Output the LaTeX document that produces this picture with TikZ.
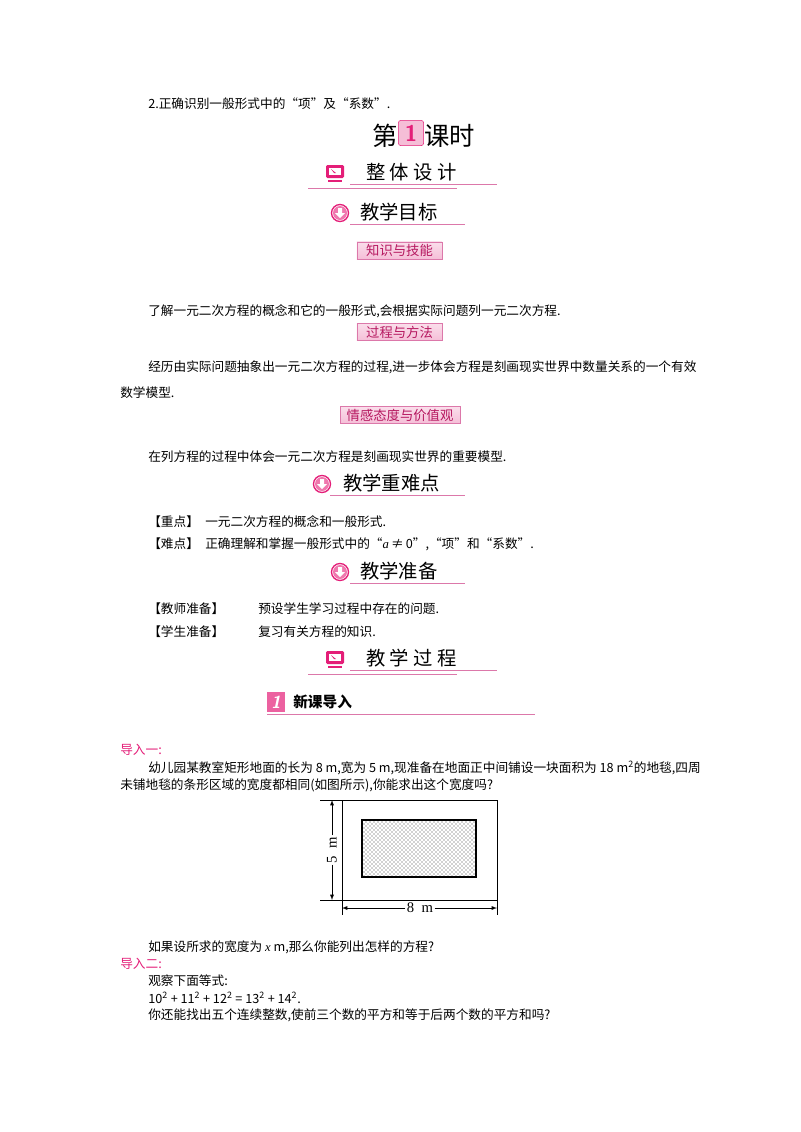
\documentclass[tikz,border=0pt]{standalone}
\usepackage{fontspec}
\setmainfont{Liberation Serif}
\newfontfamily\cjk{Noto Sans CJK SC}
\newfontfamily\lser{Liberation Serif}
\usetikzlibrary{patterns}
\definecolor{pk}{RGB}{228,30,120}
\definecolor{pkl}{RGB}{220,120,170}
\definecolor{pkbg}{RGB}{245,190,215}
\begin{document}
\begin{tikzpicture}[x=0.75pt,y=-0.75pt,
  txt/.style={anchor=west,inner sep=0pt,font=\cjk\fontsize{9.5}{11}\selectfont},
  hd/.style={anchor=west,inner sep=0pt,font=\cjk\fontsize{14.5}{16}\selectfont},
  tag/.style={draw=pkl,top color=pkbg!50,bottom color=pkbg,text=pk!80!black,inner sep=1.5pt,font=\cjk\fontsize{10}{12}\selectfont},
  pl/.style={draw=pkl,line width=0.7pt}]
\useasboundingbox (0,0) rectangle (800,1132);
\fill[white] (0,0) rectangle (800,1132);
\node[txt] (t0) at (148,104) {2.正确识别一般形式中的“项”及“系数”.};
% title
\node[anchor=east,inner sep=0pt,font=\cjk\fontsize{19}{22}\selectfont] (ta) at (398,136) {第};
\node[draw=pk,fill=pkbg,rounded corners=2pt,inner sep=0pt,minimum width=19pt,minimum height=19pt,text=pk,font=\sffamily\bfseries\fontsize{17}{17}\selectfont] (tn) at (411,133) {1};
\node[anchor=west,inner sep=0pt,font=\cjk\fontsize{19}{22}\selectfont] (tb) at (424,136) {课时};
\newcommand\mon[2]{\fill[pk,rounded corners=1pt] (#1-9,#2-7) rectangle (#1+9,#2+6);
 \fill[white] (#1-6,#2-4) rectangle (#1+6,#2+3); \fill[pk] (#1-4,#2-3)--(#1+1,#2+1)--(#1-1,#2+1)--cycle;
 \fill[pk] (#1-7,#2+8) rectangle (#1+7,#2+10);}
\mon{335}{172}
\node[hd] (h1) at (366,172) {整\ 体\ 设\ 计};
\draw[pl] (350,184)--(497,184); \draw[pl] (308,188)--(457,188);
\newcommand\dn[2]{\draw[pk,fill=white,line width=1pt] (#1,#2) circle (8.5); \fill[pk!60] (#1,#2) circle (7);
 \fill[white] (#1-2,#2-5) rectangle (#1+2,#2) (#1-5,#2)--(#1+5,#2)--(#1,#2+5)--cycle;}
\dn{340}{213}
\node[hd] (h2) at (360,212) {教学目标};
\draw[pl] (350,224)--(465,224);
\node[tag,minimum width=64pt,minimum height=13pt] (g1) at (399.5,250.5) {知识与技能};
\node[txt] (p1) at (148,311) {了解一元二次方程的概念和它的一般形式,会根据实际问题列一元二次方程.};
\node[tag,minimum width=64pt,minimum height=13pt] (g2) at (399.5,332) {过程与方法};
\node[txt] (p2) at (148,367) {经历由实际问题抽象出一元二次方程的过程,进一步体会方程是刻画现实世界中数量关系的一个有效};
\node[txt] (p2b) at (120,393) {数学模型.};
\node[tag,minimum width=90pt,minimum height=13pt] (g3) at (400,415) {情感态度与价值观};
\node[txt] (p3) at (148,457) {在列方程的过程中体会一元二次方程是刻画现实世界的重要模型.};
\dn{322}{484}
\node[hd] (h3) at (343,483) {教学重难点};
\draw[pl] (330,495)--(465,495);
\node[txt] (k1) at (148,522) {【重点】};
\node[txt] (k1b) at (205,522) {一元二次方程的概念和一般形式.};
\node[txt] (k2) at (148,544) {【难点】};
\node[txt] (k2b) at (205,544) {正确理解和掌握一般形式中的“{\lser\itshape a}\,≠\,0”,“项”和“系数”.};
\dn{340}{572}
\node[hd] (h4) at (360,571) {教学准备};
\draw[pl] (350,583)--(465,583);
\node[txt] (r1) at (148,609) {【教师准备】};
\node[txt] (r1b) at (258,609) {预设学生学习过程中存在的问题.};
\node[txt] (r2) at (148,632) {【学生准备】};
\node[txt] (r2b) at (258,632) {复习有关方程的知识.};
\mon{335}{658}
\node[hd] (h5) at (366,658) {教\ 学\ 过\ 程};
\draw[pl] (350,670)--(497,670); \draw[pl] (308,674)--(457,674);
\node[fill=pk!70,text=white,inner sep=0pt,minimum width=14pt,minimum height=15pt,font=\sffamily\bfseries\itshape\fontsize{13}{13}\selectfont] (n1) at (276,702) {1};
\node[anchor=west,inner sep=0pt,font=\cjk\bfseries\fontsize{11}{13}\selectfont] (h6) at (293,702) {新课导入};
\draw[pl] (267,714)--(535,714);
\node[txt,text=pk] (d1) at (120,750) {导入一:};
\node[txt] (d1a) at (148,768) {幼儿园某教室矩形地面的长为 8 m,宽为 5 m,现准备在地面正中间铺设一块面积为 18 m\textsuperscript{2}的地毯,四周};
\node[txt] (d1b) at (120,785) {未铺地毯的条形区域的宽度都相同(如图所示),你能求出这个宽度吗?};
% figure
\draw[line width=0.5pt] (342,800) rectangle (497,900);
\draw[line width=0.9pt,pattern=crosshatch dots,pattern color=black!75] (362,820) rectangle (476,877);
\draw[line width=0.4pt] (320,800)--(342,800) (320,900)--(342,900) (342,900)--(342,915) (497,900)--(497,915);
\node[rotate=90,fill=white,inner sep=1pt,font=\fontsize{11}{11}\selectfont] (l5) at (332,850) {5\ \ m};
\draw[-latex,line width=0.4pt] (l5.east)--(332,800);
\draw[-latex,line width=0.4pt] (l5.west)--(332,900);
\node[fill=white,inner sep=1pt,font=\fontsize{11}{11}\selectfont] (l8) at (420,908) {8\ \ m};
\draw[-latex,line width=0.4pt] (l8.west)--(342,908);
\draw[-latex,line width=0.4pt] (l8.east)--(497,908);
\node[txt] (q1) at (148,947) {如果设所求的宽度为 {\lser\itshape x} m,那么你能列出怎样的方程?};
\node[txt,text=pk] (d2) at (120,964) {导入二:};
\node[txt] (q2) at (148,981) {观察下面等式:};
\node[txt] (q3) at (148,998) {10\textsuperscript{2} + 11\textsuperscript{2} + 12\textsuperscript{2} = 13\textsuperscript{2} + 14\textsuperscript{2}.};
\node[txt] (q4) at (148,1015) {你还能找出五个连续整数,使前三个数的平方和等于后两个数的平方和吗?};
\end{tikzpicture}
\end{document}
